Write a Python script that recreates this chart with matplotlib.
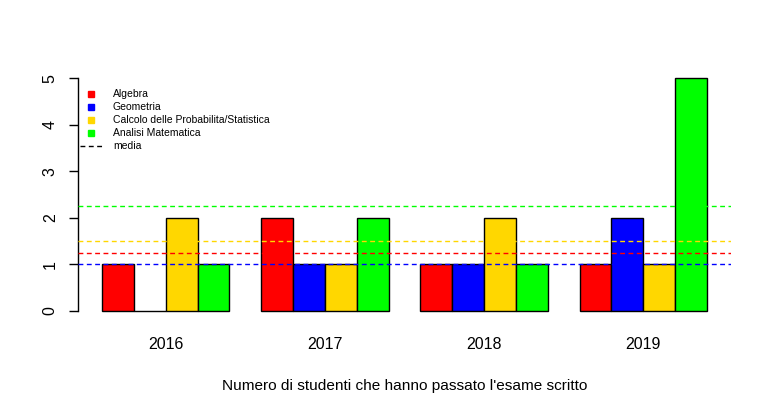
import numpy as np
import matplotlib
matplotlib.use("Agg")
import matplotlib.pyplot as plt
from matplotlib.lines import Line2D

plt.rcParams['font.family'] = ['Liberation Sans', 'DejaVu Sans']

# dati
anni = ['2016', '2017', '2018', '2019']
materie = ['Algebra', 'Geometria', 'Calcolo delle Probabilita/Statistica', 'Analisi Matematica']
algebra = [1, 2, 1, 1]
geometria = [0, 1, 1, 2]
calcolo = [2, 1, 2, 1]
analisi = [1, 2, 1, 5]
colori = ['#FF0000', '#0000FF', '#FFD700', '#00FF00']

serie = [algebra, geometria, calcolo, analisi]

fig = plt.figure(figsize=(7.73, 4.12), dpi=100)
ax = fig.add_axes([78/773, (412-320)/412, (731-78)/773, (320-69)/412])

# barre affiancate stile barplot di R (space = c(0,1))
ngr = len(anni)
nb = len(serie)
for j in range(nb):
    x = np.arange(ngr)*(nb+1) + 1 + j
    ax.bar(x, serie[j], width=1, align='edge', color=colori[j],
           edgecolor='black', linewidth=1.0, zorder=2)

# medie
for j in range(nb):
    ax.axhline(np.mean(serie[j]), color=colori[j], linestyle=(0, (3.5, 2.5)),
               linewidth=1.0, zorder=3)

ax.set_xlim(0.24, ngr*(nb+1) + 0.76)
ax.set_ylim(-0.2, 5.2)

ax.set_xticks(np.arange(ngr)*(nb+1) + 1 + nb/2)
ax.set_xticklabels(anni, fontsize=11.5)
ax.tick_params(axis='x', length=0, pad=12)
ax.set_yticks([0, 1, 2, 3, 4, 5])
ax.set_yticklabels(['0', '1', '2', '3', '4', '5'], rotation=90, va='center', fontsize=11.5)
ax.tick_params(axis='y', length=6.5, width=1, pad=8)

for s in ['top', 'right', 'bottom']:
    ax.spines[s].set_visible(False)
ax.spines['left'].set_bounds(0, 5)
ax.spines['left'].set_linewidth(1)

ax.set_xlabel("Numero di studenti che hanno passato l'esame scritto", fontsize=11.1, labelpad=20)

handles = [Line2D([], [], marker='s', linestyle='none', color=c, markersize=4.5) for c in colori]
handles.append(Line2D([], [], color='black', linestyle=(0, (3.5, 2.5)), linewidth=1.0))
ax.legend(handles, materie + ['media'], loc='upper left', bbox_to_anchor=(-0.004, 0.935),
          frameon=False, fontsize=7.5, handlelength=2.2, handletextpad=1.0,
          labelspacing=0.28, borderaxespad=0)

fig.savefig('out.png', dpi=100)
